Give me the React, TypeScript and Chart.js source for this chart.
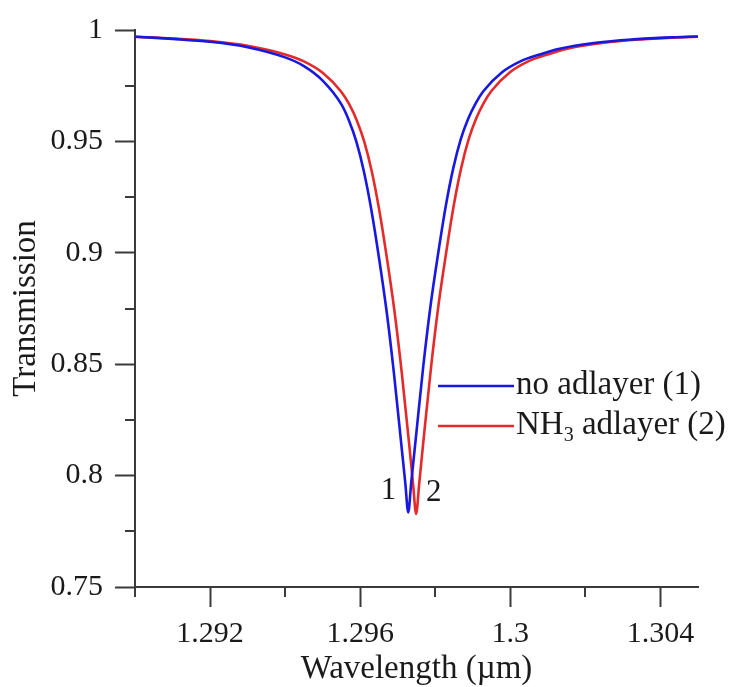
import React, { useEffect, useRef } from "react";
import { Chart, registerables } from "chart.js";

Chart.register(...registerables);

// ---- data ----
const BLUE_WAVELENGTH = [
  1.29, 1.291, 1.292, 1.293, 1.294, 1.2945, 1.295, 1.2955, 1.2957, 1.2959,
  1.2961, 1.2963, 1.2965, 1.2967, 1.2969, 1.2971, 1.2972, 1.29728,
  1.29736, 1.29748, 1.29768, 1.29788, 1.29808, 1.29828, 1.29848, 1.29868,
  1.29888, 1.29908, 1.29928, 1.29978, 1.30028, 1.30078, 1.30128, 1.30228,
  1.30328, 1.30428, 1.305,
];
const BLUE_TRANSMISSION = [
  0.997, 0.996, 0.9947, 0.9923, 0.9877, 0.9838, 0.9773, 0.9666, 0.9594, 0.9498,
  0.9364, 0.919, 0.8978, 0.8742, 0.8458, 0.8132, 0.797, 0.7835,
  0.797, 0.8165, 0.849, 0.877, 0.9, 0.921, 0.938, 0.951,
  0.9603, 0.9672, 0.9725, 0.981, 0.986, 0.989, 0.9915, 0.9943,
  0.9958, 0.9967, 0.9971,
];
const RED_WAVELENGTH = [
  1.29, 1.291, 1.292, 1.293, 1.294, 1.2945, 1.295, 1.2955, 1.29571, 1.29591,
  1.29611, 1.29631, 1.29651, 1.29671, 1.29691, 1.29711, 1.29731, 1.29741,
  1.29749, 1.29757, 1.29769, 1.29789, 1.29809, 1.29829, 1.29849, 1.29869,
  1.29889, 1.29909, 1.29929, 1.29949, 1.29999, 1.30049, 1.30099, 1.30149,
  1.30249, 1.30349, 1.30449, 1.305,
];
const RED_TRANSMISSION = [
  0.997, 0.9962, 0.995, 0.9929, 0.989, 0.9859, 0.9808, 0.9722, 0.9666, 0.9594,
  0.9498, 0.9364, 0.919, 0.8978, 0.8742, 0.8458, 0.8132, 0.796,
  0.7828, 0.796, 0.8165, 0.849, 0.877, 0.9, 0.921, 0.938,
  0.951, 0.9603, 0.9672, 0.9725, 0.981, 0.986, 0.989, 0.9915,
  0.9943, 0.9958, 0.9967, 0.997,
];
const SERIES_LABELS = ["no adlayer (1)", "NH\u2083 adlayer (2)"];
const CURVE_MARKS = ["1", "2"];

const X_MIN = 1.29;
const X_MAX = 1.305;
const Y_MIN = 0.75;
const Y_MAX = 1;
const X_MAJOR = [1.292, 1.296, 1.3, 1.304];
const X_TICK_LABELS = ["1.292", "1.296", "1.3", "1.304"];
const X_MINOR = [1.29, 1.294, 1.298, 1.302];
const Y_MAJOR = [0.75, 0.8, 0.85, 0.9, 0.95, 1];
const Y_TICK_LABELS = ["0.75", "0.8", "0.85", "0.9", "0.95", "1"];
const Y_MINOR = [0.775, 0.825, 0.875, 0.925, 0.975];
const X_TITLE = "Wavelength (\u00b5m)";
const Y_TITLE = "Transmission";

// ---- styles ----
const FONT = "'Liberation Serif', 'Times New Roman', serif";
const TEXT_COLOR = "#1a1a1a";
const AXIS_COLOR = "#3a3a3a";
const BLUE = "#1818e0";
const RED = "#e42a2a";
const COLORS = [BLUE, RED];

const SUBS: Record<string, string> = {
  "\u2080": "0", "\u2081": "1", "\u2082": "2", "\u2083": "3", "\u2084": "4",
  "\u2085": "5", "\u2086": "6", "\u2087": "7", "\u2088": "8", "\u2089": "9",
};

function drawRich(ctx: CanvasRenderingContext2D, text: string, x: number, y: number, size: number) {
  let cx = x;
  let buf = "";
  const flush = () => {
    if (!buf) return;
    ctx.font = `${size}px ${FONT}`;
    ctx.fillText(buf, cx, y);
    cx += ctx.measureText(buf).width;
    buf = "";
  };
  for (const ch of text) {
    if (SUBS[ch]) {
      flush();
      const s = Math.round(size * 0.62);
      ctx.font = `${s}px ${FONT}`;
      ctx.fillText(SUBS[ch], cx, y + size * 0.2);
      cx += ctx.measureText(SUBS[ch]).width;
    } else {
      buf += ch;
    }
  }
  flush();
}

const decorPlugin = {
  id: "decor",
  afterDraw(chart: any) {
    const ctx: CanvasRenderingContext2D = chart.ctx;
    const xs = chart.scales.x;
    const ys = chart.scales.y;
    const area = chart.chartArea;
    ctx.save();
    // minor ticks
    ctx.strokeStyle = AXIS_COLOR;
    ctx.lineWidth = 2;
    ctx.lineCap = "butt";
    X_MINOR.forEach((v) => {
      const px = Math.round(xs.getPixelForValue(v));
      ctx.beginPath();
      ctx.moveTo(px, area.bottom);
      ctx.lineTo(px, area.bottom + 10);
      ctx.stroke();
    });
    Y_MINOR.forEach((v) => {
      const py = Math.round(ys.getPixelForValue(v));
      ctx.beginPath();
      ctx.moveTo(area.left - 10, py);
      ctx.lineTo(area.left, py);
      ctx.stroke();
    });

    // legend
    const rows = [386, 426];
    chart.data.datasets.forEach((ds: any, i: number) => {
      const y = rows[i];
      ctx.strokeStyle = ds.borderColor;
      ctx.lineWidth = 2.5;
      ctx.beginPath();
      ctx.moveTo(438, y);
      ctx.lineTo(514, y);
      ctx.stroke();
      ctx.fillStyle = TEXT_COLOR;
      ctx.textAlign = "left";
      ctx.textBaseline = "alphabetic";
      drawRich(ctx, ds.label, 516, y + 8, 33);
    });

    // curve marks near the minima
    ctx.fillStyle = TEXT_COLOR;
    ctx.font = `31px ${FONT}`;
    ctx.textBaseline = "alphabetic";
    chart.data.datasets.forEach((ds: any, i: number) => {
      let min = ds.data[0];
      ds.data.forEach((p: any) => {
        if (p.y < min.y) min = p;
      });
      const px = xs.getPixelForValue(min.x);
      const py = ys.getPixelForValue(min.y) - 13;
      if (i === 0) {
        ctx.textAlign = "right";
        ctx.fillText(CURVE_MARKS[i], px - 12, py);
      } else {
        ctx.textAlign = "left";
        ctx.fillText(CURVE_MARKS[i], px + 10, py);
      }
    });
    ctx.restore();
  },
};

export default function App() {
  const ref = useRef<HTMLCanvasElement | null>(null);
  useEffect(() => {
    if (!ref.current) return;
    const chart = new Chart(ref.current, {
      type: "line",
      data: {
        datasets: [
          {
            label: SERIES_LABELS[0],
            data: BLUE_WAVELENGTH.map((x, i) => ({ x, y: BLUE_TRANSMISSION[i] })),
            borderColor: COLORS[0],
            borderWidth: 2.6,
            pointRadius: 0,
            cubicInterpolationMode: "monotone",
            fill: false,
          },
          {
            label: SERIES_LABELS[1],
            data: RED_WAVELENGTH.map((x, i) => ({ x, y: RED_TRANSMISSION[i] })),
            borderColor: COLORS[1],
            borderWidth: 2.6,
            pointRadius: 0,
            cubicInterpolationMode: "monotone",
            fill: false,
          },
        ],
      },
      options: {
        animation: false,
        responsive: false,
        devicePixelRatio: 1,
        layout: { padding: { top: 25, right: 34, left: 0, bottom: 0 } },
        plugins: { legend: { display: false }, tooltip: { enabled: false } },
        scales: {
          x: {
            type: "linear",
            min: X_MIN,
            max: X_MAX,
            afterBuildTicks: (s: any) => {
              s.ticks = X_MAJOR.map((v) => ({ value: v }));
            },
            afterFit: (s: any) => {
              s.height = 100;
            },
            ticks: {
              callback: (_v: any, i: number) => X_TICK_LABELS[i],
              font: { family: FONT, size: 30 },
              color: TEXT_COLOR,
              padding: 9,
              maxRotation: 0,
              autoSkip: false,
            },
            grid: {
              drawOnChartArea: false,
              drawTicks: true,
              tickLength: 20,
              tickColor: AXIS_COLOR,
              tickWidth: 2,
            },
            border: { display: true, color: AXIS_COLOR, width: 2 },
            title: {
              display: true,
              text: X_TITLE,
              font: { family: FONT, size: 33, lineHeight: 1.1 },
              color: TEXT_COLOR,
              padding: { top: 0, bottom: 0 },
            },
          },
          y: {
            type: "linear",
            min: Y_MIN,
            max: Y_MAX,
            afterBuildTicks: (s: any) => {
              s.ticks = Y_MAJOR.map((v) => ({ value: v }));
            },
            afterFit: (s: any) => {
              s.width = 135;
            },
            ticks: {
              callback: (_v: any, i: number) => Y_TICK_LABELS[i],
              font: { family: FONT, size: 30 },
              color: TEXT_COLOR,
              padding: 12,
              autoSkip: false,
            },
            grid: {
              drawOnChartArea: false,
              drawTicks: true,
              tickLength: 20,
              tickColor: AXIS_COLOR,
              tickWidth: 2,
            },
            border: { display: true, color: AXIS_COLOR, width: 2 },
            title: {
              display: true,
              text: Y_TITLE,
              font: { family: FONT, size: 33 },
              color: TEXT_COLOR,
              padding: { top: 7, bottom: 0 },
            },
          },
        },
      },
      plugins: [decorPlugin],
    } as any);
    return () => chart.destroy();
  }, []);
  return (
    <div style={{ position: "absolute", left: 0, top: 0, width: 732, height: 687, background: "#fff" }}>
      <canvas ref={ref} width={732} height={687} style={{ display: "block" }} />
    </div>
  );
}
